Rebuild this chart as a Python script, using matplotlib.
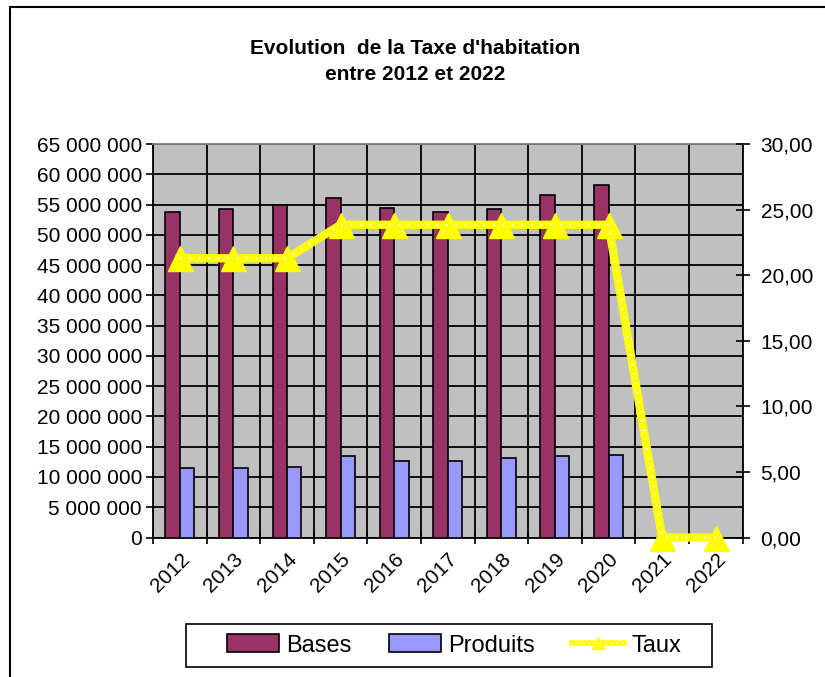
import matplotlib
matplotlib.use('Agg')
import matplotlib.pyplot as plt
from matplotlib.lines import Line2D
from matplotlib.patches import Rectangle
from matplotlib.ticker import FixedLocator, FuncFormatter

plt.rcParams['font.family'] = ['Liberation Sans', 'DejaVu Sans']

# data
years    = ['2012', '2013', '2014', '2015', '2016', '2017', '2018', '2019', '2020', '2021', '2022']
bases    = [53.7e6, 54.3e6, 54.85e6, 56.0e6, 54.35e6, 53.7e6, 54.3e6, 56.6e6, 58.3e6, 0, 0]
produits = [11.4e6, 11.4e6, 11.7e6, 13.4e6, 12.7e6, 12.7e6, 13.05e6, 13.4e6, 13.7e6, 0, 0]
taux     = [21.29, 21.29, 21.29, 23.84, 23.84, 23.84, 23.84, 23.84, 23.84, 0, 0]

col_bases    = '#993366'
col_produits = '#9999FF'
col_taux     = '#FFFF00'

W, H = 825, 677
fig = plt.figure(figsize=(W / 100, H / 100), dpi=100)
# chart frame (only top and left edges visible in the reference)
fig.patches.append(Rectangle((9.5 / W, -0.1), 1.2, (H - 7) / H + 0.1,
                             transform=fig.transFigure, fill=False,
                             edgecolor='black', lw=1.5, zorder=-5))

ax = fig.add_axes([153 / W, 139.5 / H, 589.5 / W, 393.5 / H])
ax.set_facecolor('#C0C0C0')

x = list(range(len(years)))
w = 0.27
b1 = ax.bar([i - w / 2 for i in x], bases, width=w, color=col_bases,
            edgecolor='black', lw=1.2, zorder=3)
b2 = ax.bar([i + w / 2 for i in x], produits, width=w, color=col_produits,
            edgecolor='black', lw=1.2, zorder=3)

ax.set_xlim(-0.5, len(years) - 0.5)
ax.set_ylim(0, 65e6)
ax.yaxis.set_major_locator(FixedLocator([i * 5e6 for i in range(14)]))
ax.yaxis.set_major_formatter(FuncFormatter(lambda v, p: f'{v:,.0f}'.replace(',', ' ')))
ax.tick_params(axis='y', direction='out', length=5, width=1.2, labelsize=15, pad=3)

# category boundaries carry the tick marks and vertical gridlines
ax.xaxis.set_major_locator(FixedLocator([i - 0.5 for i in range(len(years) + 1)]))
ax.xaxis.set_major_formatter(FuncFormatter(lambda v, p: ''))
ax.set_xticks(x, minor=True)
ax.set_xticklabels(years, minor=True, rotation=45, ha='right', va='top',
                   rotation_mode='anchor', fontsize=15)
ax.tick_params(axis='x', which='major', direction='inout', length=8, width=1.2)
ax.tick_params(axis='x', which='minor', length=0, pad=9)

ax.grid(True, which='major', color='black', lw=1.3, zorder=1)
ax.set_axisbelow(True)
for s in ax.spines.values():
    s.set_color('black')
    s.set_linewidth(1.3)
ax.spines['top'].set_color('#808080')

ax2 = ax.twinx()
ax2.set_ylim(0, 30)
ax2.yaxis.set_major_locator(FixedLocator([0, 5, 10, 15, 20, 25, 30]))
ax2.yaxis.set_major_formatter(FuncFormatter(lambda v, p: f'{v:.2f}'.replace('.', ',')))
ax2.tick_params(axis='y', direction='inout', length=10, width=1.2, labelsize=15, pad=8)
for s in ax2.spines.values():
    s.set_visible(False)

ax2.plot(x, taux, color=col_taux, lw=6, marker='^', markersize=18,
         markerfacecolor=col_taux, markeredgecolor=col_taux,
         clip_on=False, zorder=4)
ax2.plot(x, taux, color='white', lw=1.8, linestyle=(0, (0.6, 3.2)),
         clip_on=False, zorder=5)

fig.text(415 / W, (H - 48) / H, "Evolution  de la Taxe d'habitation",
         ha='center', va='center', fontsize=15, fontweight='bold')
fig.text(415 / W, (H - 75) / H, "entre 2012 et 2022",
         ha='center', va='center', fontsize=15, fontweight='bold')

# legend: own frame, entries packed in the middle like Excel does
fig.patches.append(Rectangle((186 / W, (H - 667) / H), 526 / W, 43 / H,
                             transform=fig.transFigure, fill=False,
                             edgecolor='black', lw=1.2))
leg_line = Line2D([], [], color=col_taux, lw=4, marker='^', markersize=8,
                  markerfacecolor=col_taux, markeredgecolor=col_taux)
leg_dots = Line2D([], [], color='white', lw=1.3, linestyle=(0, (0.6, 2.5)))
fig.legend([b1, b2, (leg_line, leg_dots)], ['Bases', 'Produits', 'Taux'],
           loc='center', bbox_to_anchor=(454 / W, (H - 645.5) / H),
           ncol=3, fontsize=17, frameon=False, handlelength=2.2,
           handleheight=0.8, handletextpad=0.3, columnspacing=1.6,
           borderpad=0.2)

plt.savefig('out.png', dpi=100)
print('saved out.png')
